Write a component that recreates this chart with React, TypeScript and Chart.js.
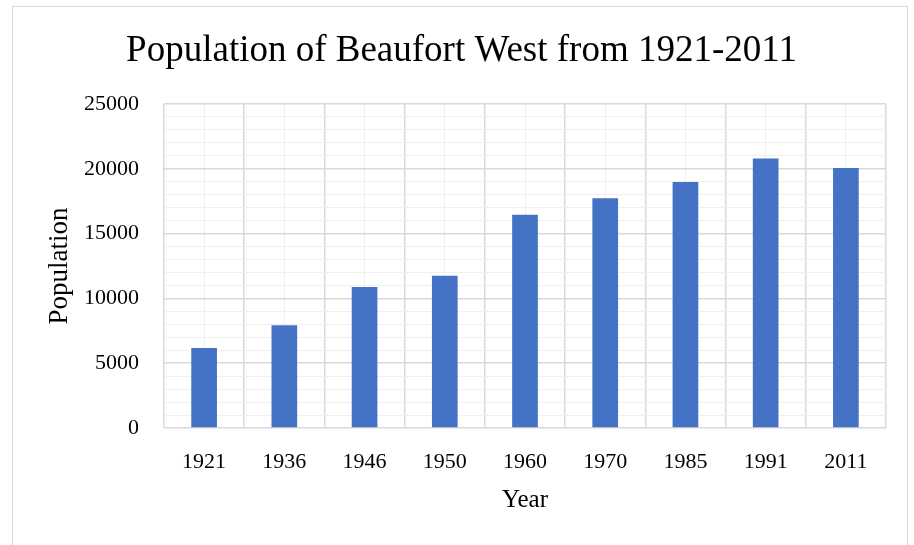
import React, { useEffect, useRef } from "react";
import { Chart, registerables } from "chart.js";

Chart.register(...registerables);

const categories = ["1921", "1936", "1946", "1950", "1960", "1970", "1985", "1991", "2011"];
const populationValues = [6170, 7920, 10880, 11750, 16460, 17720, 18980, 20800, 20060];
const yMax = 25000;
const yMinorStep = 1000;
const yMajorStep = 5000;

const FONT = "'Liberation Serif', 'Times New Roman', serif";
const MAJOR = "#d9d9d9";
const MINOR = "#efefef";

export default function App() {
  const ref = useRef<HTMLCanvasElement | null>(null);

  useEffect(() => {
    if (!ref.current) return;
    const chart = new Chart(ref.current, {
      type: "bar",
      data: {
        labels: categories,
        datasets: [
          {
            label: "Population",
            data: populationValues,
            backgroundColor: "#4472C4",
            borderWidth: 0,
            barPercentage: 0.32,
            categoryPercentage: 1,
          },
        ],
      },
      options: {
        animation: false,
        responsive: false,
        devicePixelRatio: 1,
        layout: { padding: { left: 37, right: 28, top: 20, bottom: 0 } },
        plugins: {
          legend: { display: false },
          tooltip: { enabled: false },
          title: {
            display: true,
            text: "Population of Beaufort West from 1921-2011",
            color: "#000",
            font: { family: FONT, size: 37, weight: "normal" },
            padding: { top: 9, bottom: 30.6 },
          },
        },
        scales: {
          x: {
            type: "category",
            offset: true,
            grid: { offset: true, color: MAJOR, lineWidth: 1.5, drawTicks: false },
            border: { display: false },
            ticks: { color: "#000", font: { family: FONT, size: 22 }, padding: 21, autoSkip: false, maxRotation: 0 },
            title: {
              display: true,
              text: "Year",
              color: "#000",
              font: { family: FONT, size: 25 },
              padding: { top: 0, bottom: 29.4 },
            },
            afterFit: (s: any) => {
              s.height = 117;
            },
          },
          x2: {
            type: "category",
            labels: categories,
            position: "bottom",
            offset: true,
            grid: { offset: false, color: MINOR, lineWidth: 1, drawTicks: false, z: -1 },
            border: { display: false },
            ticks: { display: false },
            afterFit: (s: any) => {
              s.height = 0;
            },
          },
          y: {
            type: "linear",
            min: 0,
            max: yMax,
            grid: {
              drawTicks: false,
              color: (c: any) => (c.tick && c.tick.value % yMajorStep === 0 ? MAJOR : MINOR),
              lineWidth: (c: any) => (c.tick && c.tick.value % yMajorStep === 0 ? 1.5 : 1),
            },
            border: { display: false },
            ticks: {
              stepSize: yMinorStep,
              autoSkip: false,
              color: "#000",
              font: { family: FONT, size: 22 },
              padding: 25,
              callback: (v: any) => (Number(v) % yMajorStep === 0 ? String(v) : ""),
            },
            title: {
              display: true,
              text: "Population",
              color: "#000",
              font: { family: FONT, size: 27 },
              padding: { top: 6.8, bottom: 0 },
            },
            afterFit: (s: any) => {
              s.width = 127;
            },
          },
        },
      },
    });
    return () => chart.destroy();
  }, []);

  return (
    <div style={{ position: "absolute", left: 0, top: 0, width: 914, height: 545, overflow: "hidden", background: "#fff" }}>
      <div
        style={{
          position: "absolute",
          left: 12,
          top: 6,
          width: 896,
          height: 600,
          border: "1px solid #d9d9d9",
          boxSizing: "border-box",
        }}
      />
      <canvas ref={ref} width={914} height={545} style={{ position: "absolute", left: 0, top: 0 }} />
    </div>
  );
}
